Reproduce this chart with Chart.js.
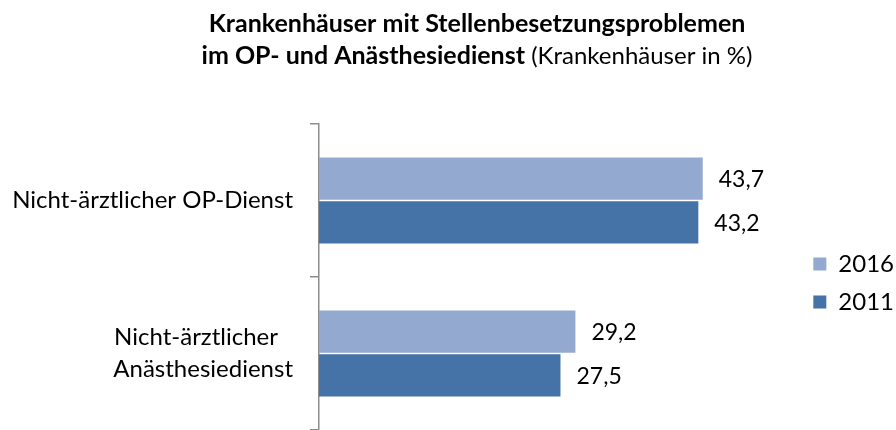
<!DOCTYPE html>
<html><head><meta charset="utf-8">
<script src="https://cdn.jsdelivr.net/npm/chart.js@4.4.0/dist/chart.umd.min.js"></script>
<style>html,body{margin:0;padding:0;background:#fff}#wrap{width:896px;height:430px}</style>
</head><body><div id="wrap"><canvas id="c" width="896" height="430"></canvas></div>
<script>
const categories = [["Nicht-ärztlicher OP-Dienst"], ["Nicht-ärztlicher\u2002\u2009", "Anästhesiedienst"]];
const seriesNames = ["2016", "2011"];
const values2016 = [43.7, 29.2];
const values2011 = [43.2, 27.5];
const titleLine1 = "Krankenhäuser mit Stellenbesetzungsproblemen";
const titleLine2Bold = "im OP- und Anästhesiedienst";
const titleLine2Normal = " (Krankenhäuser in %)";

const FONT = "Lato";
const colors = ["#94a9cf", "#4572a7"];

const titlePlugin = {
  id: 'mixedTitle',
  afterDraw(chart) {
    const ctx = chart.ctx;
    ctx.save();
    ctx.fillStyle = '#000';
    ctx.textBaseline = 'alphabetic';
    ctx.textAlign = 'left';
    const cx = 477;
    const bold = "bold 25px " + FONT, normal = "24px " + FONT;
    ctx.font = bold;
    const w1 = ctx.measureText(titleLine1).width;
    ctx.fillText(titleLine1, cx - w1 / 2, 32);
    const wb = ctx.measureText(titleLine2Bold).width;
    ctx.font = normal;
    const wn = ctx.measureText(titleLine2Normal).width;
    const start = cx - (wb + wn) / 2;
    ctx.font = bold;
    ctx.fillText(titleLine2Bold, start, 64);
    ctx.font = normal;
    ctx.fillText(titleLine2Normal, start + wb, 64);
    ctx.restore();
  }
};

const valueLabels = {
  id: 'valueLabels',
  afterDatasetsDraw(chart) {
    const ctx = chart.ctx;
    ctx.save();
    ctx.font = "23px " + FONT;
    ctx.fillStyle = '#000';
    ctx.textAlign = 'left';
    ctx.textBaseline = 'middle';
    chart.data.datasets.forEach((ds, i) => {
      const meta = chart.getDatasetMeta(i);
      meta.data.forEach((bar, j) => {
        const v = ds.data[j];
        ctx.fillText(v.toFixed(1).replace('.', ','), bar.x + 16, bar.y + 1);
      });
    });
    ctx.restore();
  }
};

new Chart(document.getElementById('c'), {
  type: 'bar',
  data: {
    labels: categories,
    datasets: [
      { label: seriesNames[0], data: values2016, backgroundColor: colors[0], borderWidth: 0 },
      { label: seriesNames[1], data: values2011, backgroundColor: colors[1], borderWidth: 0 }
    ]
  },
  options: {
    indexAxis: 'y',
    responsive: false,
    animation: false,
    devicePixelRatio: 1,
    layout: { padding: { top: 124, left: 0, right: -8, bottom: 0 } },
    datasets: { bar: { categoryPercentage: 0.57, barPercentage: 0.97 } },
    scales: {
      x: { display: false, min: 0, max: 54.7 },
      y: {
        afterFit(scale) { scale.width = 319; scale.paddingTop = 0; scale.paddingBottom = 0; },
        border: { display: true, color: '#8c8c8c', width: 1.5 },
        grid: { drawOnChartArea: false, drawTicks: true, tickLength: 9, color: '#8c8c8c', lineWidth: 1.5, offset: true },
        ticks: { color: '#000', font: { family: FONT, size: 24, lineHeight: 1.35 }, padding: 17 }
      }
    },
    plugins: {
      title: { display: false },
      tooltip: { enabled: false },
      legend: {
        position: 'right',
        title: { display: true, text: '', font: { size: 1 }, padding: { top: 11, bottom: 0 } },
        labels: { boxWidth: 13, boxHeight: 13, color: '#000', padding: 14, font: { family: FONT, size: 24 } }
      }
    }
  },
  plugins: [titlePlugin, valueLabels]
});
</script></body></html>
